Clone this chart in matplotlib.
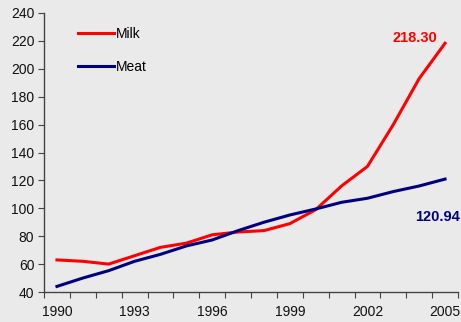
import numpy as np
import matplotlib.pyplot as plt

plt.rcParams['font.family'] = ['Liberation Sans', 'DejaVu Sans']

years = list(range(1990, 2006))
milk = [63, 62, 60, 66, 72, 75, 81, 83, 84, 89, 99, 116, 130, 160, 193, 218.30]
meat = [44, 50, 55.3, 62, 67, 73, 77.3, 84, 90, 95.2, 99.5, 104.3, 107.2, 112, 116, 120.94]
tick_years = [1990, 1993, 1996, 1999, 2002, 2005]

bg = '#eaeaea'
fig = plt.figure(figsize=(4.61, 3.22), dpi=100, facecolor=bg)
ax = fig.add_axes([44 / 461, 30 / 322, 414 / 461, 279 / 322], facecolor=bg)

x = np.arange(len(years))
ax.plot(x, milk, color='#ff0000', lw=2.2, label='Milk')
ax.plot(x, meat, color='#000080', lw=2.2, label='Meat')

ax.set_xlim(-0.5, len(years) - 0.5)
ax.set_ylim(40, 240)
ax.set_yticks(range(40, 241, 20))

# year labels every third category, tick marks on category boundaries
ax.set_xticks(np.arange(-0.5, len(years), 1), minor=True)
ax.set_xticks([years.index(y) for y in tick_years])
ax.set_xticklabels([str(y) for y in tick_years])
ax.tick_params(axis='x', which='major', length=0, pad=9)
ax.tick_params(axis='x', which='minor', length=4, width=0.8, color='#444444')
ax.tick_params(axis='y', length=4, width=0.8, color='#444444', pad=3)
ax.tick_params(labelsize=10, labelcolor='#111111')

for s in ['top', 'right']:
    ax.spines[s].set_visible(False)
for s in ['left', 'bottom']:
    ax.spines[s].set_color('#444444')
    ax.spines[s].set_linewidth(1)

# end-of-series value labels
ax.text(14.69, 222, f'{milk[-1]:.2f}', color='#ff0000',
        fontsize=10.5, fontweight='bold', ha='right', va='center')
ax.text(15.58, 94, f'{meat[-1]:.2f}', color='#000080',
        fontsize=10.5, fontweight='bold', ha='right', va='center')

ax.legend(loc='upper left', bbox_to_anchor=(0.052, 0.995), frameon=False,
          fontsize=10, handlelength=2.6, handletextpad=0.1, labelspacing=1.35)

fig.savefig('out.png', dpi=100, facecolor=bg)
